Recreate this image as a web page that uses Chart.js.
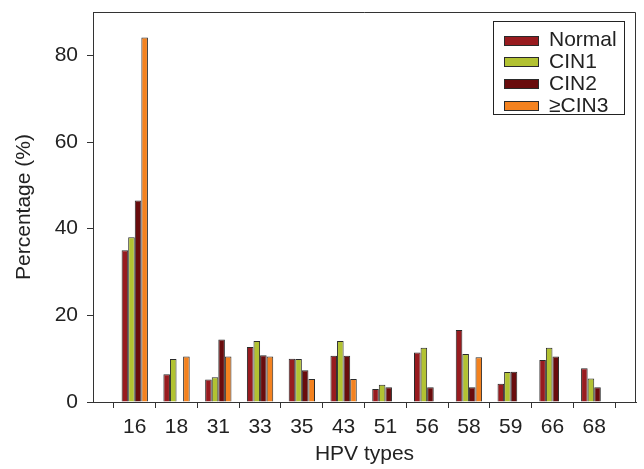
<!DOCTYPE html>
<html>
<head>
<meta charset="utf-8">
<script src="https://cdn.jsdelivr.net/npm/chart.js@4/dist/chart.umd.min.js"></script>
<style>
    body { margin: 0; background: #fff; }
    #wrap { width: 644px; height: 469px; }
</style>
</head>
<body>
<div id="wrap"><canvas id="chart" width="644" height="469"></canvas></div>
<script>
const hpvTypes = ["16", "18", "31", "33", "35", "43", "51", "56", "58", "59", "66", "68"];
const normal = [35.0, 6.4, 5.2, 12.7, 10.0, 10.7, 3.0, 11.4, 16.6, 4.2, 9.7, 7.8];
const cin1 = [38.0, 9.9, 5.7, 14.1, 9.9, 14.1, 4.0, 12.5, 11.1, 6.9, 12.5, 5.4];
const cin2 = [46.5, 0, 14.4, 10.8, 7.3, 10.7, 3.4, 3.4, 3.4, 7.0, 10.5, 3.4];
const cin3 = [84.1, 10.5, 10.5, 10.5, 5.3, 5.3, 0, 0, 10.3, 0, 0, 0];
const yTicks = [0, 20, 40, 60, 80];

const FONT = "'Liberation Sans', Arial, sans-serif";
const LINE = "#333";

// empty slot at each end so the axis runs one step past the first and last type
const pad = (arr) => [null, ...arr, null];

const makeSet = (label, data, color) => ({
    label,
    data: pad(data),
    backgroundColor: color,
    borderColor: "#2a2a2a",
    borderWidth: 1,
    borderSkipped: "bottom",
    categoryPercentage: 0.63,
    barPercentage: 1.0,
});

// frame on top/right and the boxed legend inside the plot
const framePlugin = {
    id: "frame",
    afterDraw(chart) {
        const { ctx, chartArea: a } = chart;
        ctx.save();
        ctx.strokeStyle = LINE;
        ctx.lineWidth = 1;
        ctx.beginPath();
        ctx.moveTo(a.left, a.top + 0.5);
        ctx.lineTo(a.right - 0.5, a.top + 0.5);
        ctx.lineTo(a.right - 0.5, a.bottom);
        ctx.stroke();

        ctx.fillStyle = "#fff";
        ctx.fillRect(493.5, 21.5, 131, 93);
        ctx.strokeStyle = "#222";
        ctx.strokeRect(493.5, 21.5, 131, 93);

        ctx.font = "21px " + FONT;
        ctx.textBaseline = "middle";
        chart.data.datasets.forEach((ds, i) => {
            const y = 39.5 + i * 21.9;
            ctx.fillStyle = ds.backgroundColor;
            ctx.fillRect(504.5, Math.round(y - 4) + 0.5, 34, 9);
            ctx.strokeStyle = "#2a2a2a";
            ctx.strokeRect(504.5, Math.round(y - 4) + 0.5, 34, 9);
            ctx.fillStyle = "#222";
            ctx.fillText(ds.label, 549, y + 1);
        });
        ctx.restore();
    },
};

new Chart(document.getElementById("chart"), {
    type: "bar",
    data: {
        labels: pad(hpvTypes).map((t) => t || ""),
        datasets: [
            makeSet("Normal", normal, "#981b1f"),
            makeSet("CIN1", cin1, "#b2c232"),
            makeSet("CIN2", cin2, "#690c0d"),
            makeSet("\u2265CIN3", cin3, "#f4821f"),
        ],
    },
    options: {
        responsive: false,
        animation: false,
        layout: { padding: { top: 12, right: 8, left: 0, bottom: 0 } },
        plugins: {
            legend: { display: false },
            tooltip: { enabled: false },
        },
        scales: {
            x: {
                offset: false,
                afterFit: (scale) => {
                    scale.height = 67;
                    scale.paddingLeft = 0;
                    scale.paddingRight = 0;
                },
                grid: { drawOnChartArea: false, color: LINE, tickLength: 6 },
                border: { color: LINE, width: 1 },
                ticks: { color: "#222", font: { family: FONT, size: 21 }, padding: 7, maxRotation: 0, autoSkip: false },
                title: {
                    display: true,
                    text: "HPV types",
                    color: "#222",
                    font: { family: FONT, size: 21 },
                    padding: { top: 0, bottom: 2 },
                },
            },
            y: {
                min: 0,
                max: 90,
                afterFit: (scale) => {
                    scale.width = 93;
                    scale.paddingTop = 0;
                    scale.paddingBottom = 0;
                },
                afterBuildTicks: (scale) => {
                    scale.ticks = yTicks.map((v) => ({ value: v }));
                },
                grid: { drawOnChartArea: false, color: LINE, tickLength: 6 },
                border: { color: LINE, width: 1 },
                ticks: { color: "#222", font: { family: FONT, size: 21 }, padding: 9 },
                title: {
                    display: true,
                    text: "Percentage (%)",
                    color: "#222",
                    font: { family: FONT, size: 21 },
                    padding: { top: 12, bottom: 0 },
                },
            },
        },
    },
    plugins: [framePlugin],
});
</script>
</body>
</html>
